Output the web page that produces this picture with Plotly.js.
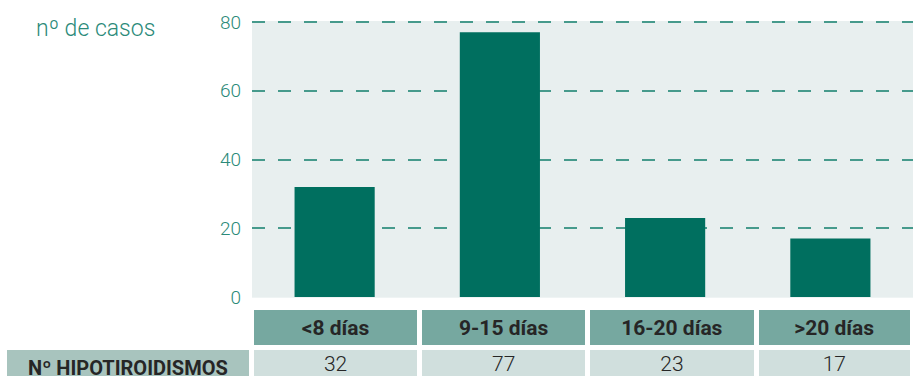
<!DOCTYPE html>
<html>
<head>
<meta charset="utf-8">
<script src="https://cdn.plot.ly/plotly-3.0.1.min.js"></script>
<style>
  html, body { margin: 0; padding: 0; overflow: hidden; background: #ffffff; }
  #chart { width: 913px; height: 390px; }
</style>
</head>
<body>
<div id="chart"></div>
<script>
// Cases of hypothyroidism by days of life at diagnosis
const categories = ['<8 días', '9-15 días', '16-20 días', '>20 días'];
const casos = [32, 77, 23, 17];
const rowLabel = 'Nº HIPOTIROIDISMOS';
const yTicks = [0, 20, 40, 60, 80];

const W = 913, H = 390;
const teal = '#2b8a79';
const barColor = '#006f5f';
const sans = 'Roboto, Liberation Sans, Arial, sans-serif';

const bars = {
  type: 'bar',
  x: categories,
  y: casos,
  marker: { color: barColor, line: { width: 0 } },
  width: 0.485,
  hoverinfo: 'x+y',
  xaxis: 'x',
  yaxis: 'y'
};

// data table under the bars: header = categories, one row of counts
const table = {
  type: 'table',
  domain: { x: [4.5 / W, 1], y: [0, (H - 307.5) / H] },
  columnwidth: [247, 168.5, 168, 168.5, 156.5],
  header: {
    values: [''].concat(categories.map(c => '<b>' + c + '</b>')),
    fill: { color: ['#ffffff', '#76a8a0', '#76a8a0', '#76a8a0', '#76a8a0'] },
    line: { color: '#ffffff', width: 5 },
    align: 'center',
    height: 38,
    font: { family: sans, size: 21, color: '#262626' }
  },
  cells: {
    values: [['<b>' + rowLabel + '</b>']].concat(casos.map(v => [String(v)])),
    fill: { color: ['#a8c4be', '#d0dfdd', '#d0dfdd', '#d0dfdd', '#d0dfdd'] },
    line: { color: '#ffffff', width: 5 },
    align: 'center',
    height: 38,
    font: { family: sans, size: [20, 21, 21, 21, 21], color: '#262626', weight: 300 }
  }
};

const layout = {
  width: W,
  height: H,
  margin: { l: 0, r: 0, t: 0, b: 0, pad: 0 },
  paper_bgcolor: '#ffffff',
  plot_bgcolor: '#e8efef',
  showlegend: false,
  title: {
    text: 'nº de casos',
    x: 36 / W,
    xanchor: 'left',
    xref: 'paper',
    y: (H - 28) / H,
    yanchor: 'middle',
    font: { family: sans, size: 23, color: teal, weight: 300 }
  },
  xaxis: {
    domain: [252 / W, 1],
    showticklabels: false,
    showgrid: false,
    zeroline: false,
    showline: false,
    ticks: ''
  },
  yaxis: {
    domain: [(H - 297.7) / H, (H - 21) / H],
    range: [-0.2, 80.3],
    tickvals: yTicks,
    ticktext: yTicks.map(String),
    ticks: '',
    ticklabelstandoff: 10,
    showgrid: true,
    gridcolor: '#469a8c',
    gridwidth: 2,
    griddash: '13px,13px',
    zeroline: false,
    showline: false,
    tickfont: { family: sans, size: 19, color: teal, weight: 300 }
  }
};

Plotly.newPlot('chart', [bars, table], layout, { displayModeBar: false, staticPlot: true });
</script>
</body>
</html>
